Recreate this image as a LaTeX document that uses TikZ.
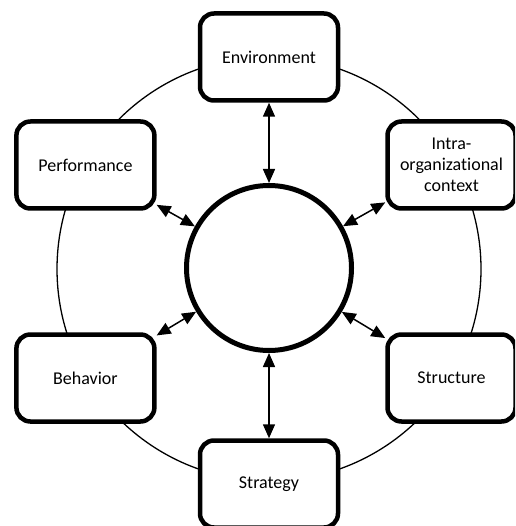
\documentclass[tikz,border=0pt]{standalone}
\usepackage{fontspec}
\setmainfont[Ligatures=NoCommon]{Carlito}
\usetikzlibrary{arrows.meta}
\begin{document}
\begin{tikzpicture}[x=1pt,y=-1pt,
  box/.style={draw, line width=4.5pt, rounded corners=14pt, fill=white,
    minimum width=138pt, minimum height=87pt, align=center,
    font=\fontsize{18}{21}\selectfont, inner sep=2pt},
  narrowbox/.style={box, minimum width=128pt},
  hub/.style={circle, draw, line width=5pt, fill=white, minimum size=165pt, inner sep=0pt},
  ring/.style={line width=1.3pt},
  link/.style={line width=1.5pt, {Triangle[length=14pt,width=12pt]}-{Triangle[length=14pt,width=12pt]}}]
\useasboundingbox (0,0) rectangle (515,526);
\clip (0,0) rectangle (515,526);
\coordinate (o) at (269,269);
\draw[ring] (o) circle[radius=212pt];
\node[hub] (c) at (269,268) {};
\node[box] (env) at (269,57) {Environment};
\node[narrowbox] (intra) at (451.5,165) {Intra-\\organizational\\context};
\node[narrowbox] (struct) at (451.5,378) {Structure};
\node[box] (strat) at (269,484) {Strategy};
\node[box] (behav) at (85.4,378) {Behavior};
\node[box] (perf) at (85.4,165) {Performance};
\draw[link] (c) -- (env);
\draw[link] (c) -- (intra);
\draw[link] (c) -- (struct);
\draw[link] (c) -- (strat);
\draw[link] (c) -- (behav);
\draw[link] (c) -- (perf);
\end{tikzpicture}
\end{document}
